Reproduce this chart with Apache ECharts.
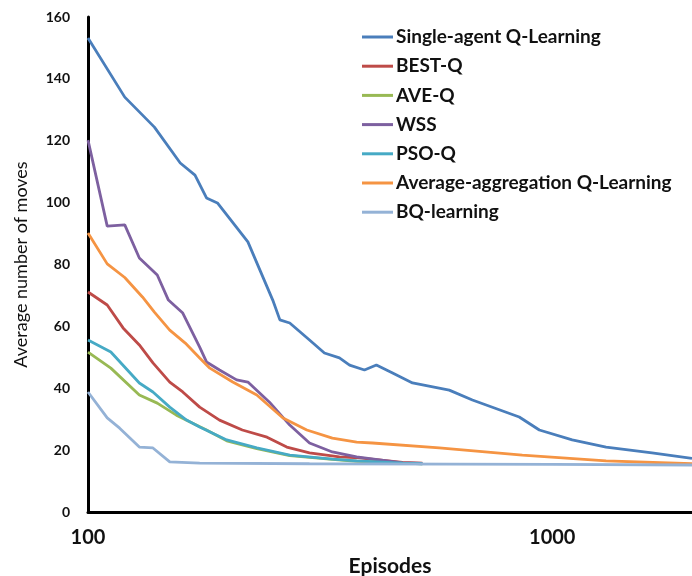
<!DOCTYPE html>
<html>
<head>
<meta charset="utf-8">
<script src="https://cdn.jsdelivr.net/npm/echarts@6/dist/echarts.min.js"></script>
<style>html,body{margin:0;padding:0;background:#fff}#c{width:692px;height:576px}</style>
</head>
<body>
<div id="c"></div>
<script>
// ---- data (episodes on log axis, average number of moves) ----
const seriesNames = ['Single-agent Q-Learning','BEST-Q','AVE-Q','WSS','PSO-Q','Average-aggregation Q-Learning','BQ-learning'];
const xTickLabels = [100, 1000];

const singleEp  = [100,120,139,158,170,180,190,221,250,259,272,300,323,348,366,394,418,453,500,600,673,849,938,1104,1306,1640,2000];
const singleVal = [153.2,134.1,124.4,112.8,108.9,101.5,99.9,87.3,68.5,62.1,61.1,55.6,51.4,49.8,47.5,45.9,47.5,44.9,41.7,39.4,36.2,30.7,26.5,23.3,21.0,19.1,17.3];

const bestEp  = [100,110,119,129,138,150,160,174,192,215,243,268,300,348,384,476,525];
const bestVal = [71.1,66.9,59.5,54.0,48.2,42.0,38.8,33.9,29.7,26.5,24.2,21.0,19.1,17.8,17.5,16.0,15.8];

const aveEp  = [100,112,129,141,155,180,199,231,272,336,379,476,525];
const aveVal = [51.7,46.5,37.8,35.2,31.3,26.5,23.0,20.5,18.2,17.0,16.4,15.8,15.6];

const wssEp  = [100,110,120,129,141,149,160,174,180,192,209,221,246,272,300,336,379,476,525];
const wssVal = [120.2,92.4,92.8,82.1,76.6,68.5,64.3,53.3,48.5,45.9,42.7,42.0,35.5,28.1,22.3,19.4,17.8,15.9,15.7];

const psoEp  = [100,112,129,138,150,163,174,199,231,272,336,379,476,525];
const psoVal = [55.6,51.7,41.7,38.8,33.9,29.7,27.5,23.3,20.7,18.4,17.1,16.5,15.8,15.6];

const avgAggEp  = [100,110,120,131,139,150,162,174,183,205,231,263,296,336,379,410,571,862,1306,2000];
const avgAggVal = [90.2,80.2,75.8,69.5,64.6,58.8,54.6,49.8,46.5,42.0,37.8,30.4,26.5,23.9,22.6,22.3,20.7,18.4,16.5,15.6];

const bqEp  = [100,110,117,129,138,150,174,300,600,1000,2000];
const bqVal = [38.8,30.4,27.1,21.0,20.7,16.2,15.8,15.6,15.5,15.4,15.2];

const colors = ['#4a7ebb','#be4b48','#98b954','#7d60a0','#46aac5','#f59443','#94b2d6'];

function pairs(xs, ys){ return xs.map((x,i)=>[x, ys[i]]); }
const allData = [
  pairs(singleEp, singleVal),
  pairs(bestEp, bestVal),
  pairs(aveEp, aveVal),
  pairs(wssEp, wssVal),
  pairs(psoEp, psoVal),
  pairs(avgAggEp, avgAggVal),
  pairs(bqEp, bqVal)
];

const chart = echarts.init(document.getElementById('c'), null, {renderer:'canvas'});
const font = 'Lato, "Open Sans", sans-serif';
chart.setOption({
  animation: false,
  color: colors,
  grid: {left: 88, right: 0, top: 17, bottom: 64, containLabel: false, outerBoundsMode: 'none'},
  legend: {
    orient: 'vertical',
    left: 357, top: 22,
    itemWidth: 31, itemHeight: 3, itemGap: 9.2,
    icon: 'rect',
    textStyle: {fontFamily: font, fontWeight: 'bold', fontSize: 19, color: '#111', lineHeight: 20, padding: [0,0,0,-2]},
    data: seriesNames
  },
  xAxis: {
    type: 'log', logBase: 10, min: 100, max: 2000,
    name: 'Episodes', nameLocation: 'middle', nameGap: 44,
    nameTextStyle: {fontFamily: font, fontWeight: 'bold', fontSize: 21, color: '#111'},
    axisLine: {lineStyle: {color: '#000', width: 3}},
    axisTick: {show: false},
    splitLine: {show: false},
    axisLabel: {
      fontFamily: font, fontWeight: 'bold', fontSize: 20, color: '#111', margin: 16,
      alignMinLabel: 'center',
      formatter: v => xTickLabels.some(t => Math.abs(t - v) < 1e-6) ? String(v) : ''
    }
  },
  yAxis: {
    type: 'value', min: 0, max: 160, interval: 20,
    name: 'Average number of moves', nameLocation: 'middle', nameGap: 58,
    nameTextStyle: {fontFamily: font, fontSize: 18, color: '#111'},
    axisLine: {show: true, lineStyle: {color: '#000', width: 3}},
    axisTick: {show: false},
    splitLine: {show: false},
    axisLabel: {fontFamily: font, fontWeight: 'bold', fontSize: 14, color: '#111', margin: 18}
  },
  series: seriesNames.map((n, i) => ({
    name: n, type: 'line', data: allData[i],
    symbol: 'none', showSymbol: false,
    lineStyle: {width: 2.8, color: colors[i]},
    itemStyle: {color: colors[i]},
    z: 2
  }))
});
</script>
</body>
</html>
